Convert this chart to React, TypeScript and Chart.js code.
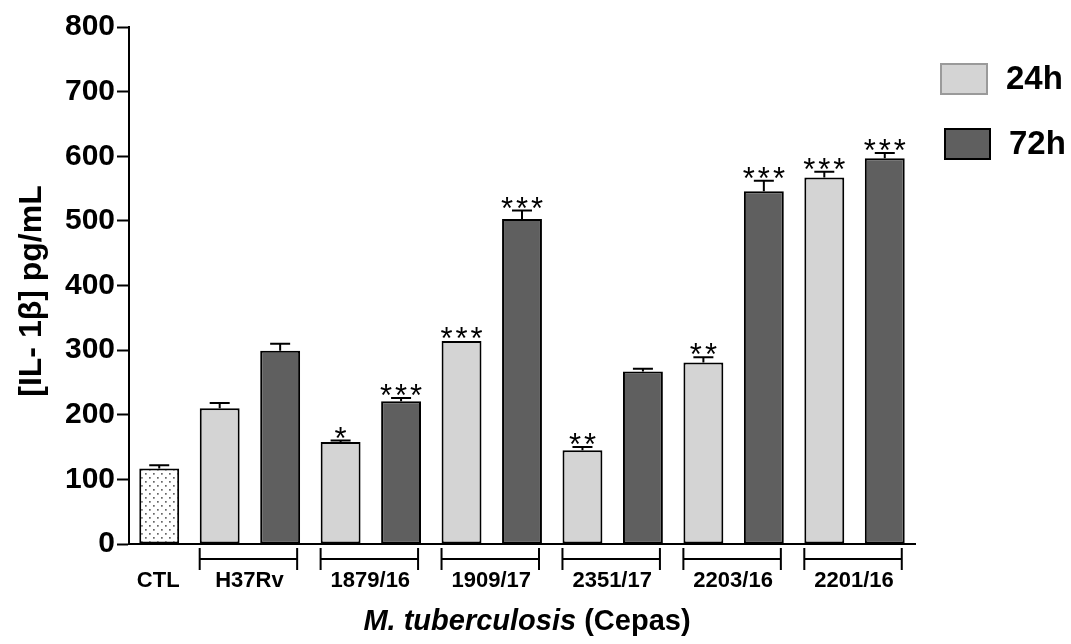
import React, { useEffect, useRef } from "react";
import { Chart, registerables } from "chart.js";

Chart.register(...registerables);

const FONT = '"Liberation Sans", Arial, Helvetica, sans-serif';

// ---- data ----
const controlLabel = "CTL";
const controlValue = 117;
const controlError = 5;
const strainLabels = ["H37Rv", "1879/16", "1909/17", "2351/17", "2203/16", "2201/16"];
const seriesLabels = ["24h", "72h"];
const values24h = [210, 158, 314, 145, 281, 567];
const errors24h = [8, 2, 0, 5, 8, 9];
const stars24h = ["", "*", "***", "**", "**", "***"];
const values72h = [299, 221, 503, 267, 546, 597];
const errors72h = [11, 5, 13, 4, 16, 8];
const stars72h = ["", "***", "***", "", "***", "***"];
const yMin = 0;
const yMax = 800;
const yStep = 100;
const yTitle = "[IL- 1β] pg/mL";
const xTitleItalic = "M. tuberculosis";
const xTitleRest = " (Cepas)";

// slots: CTL, then 24h/72h for each strain
const slotLabels: string[] = [controlLabel];
strainLabels.forEach((s) => {
  slotLabels.push(s + " " + seriesLabels[0]);
  slotLabels.push(s + " " + seriesLabels[1]);
});
const nulls = () => slotLabels.map(() => null as number | null);

function buildSeries(vals: (number | string)[], kind: 0 | 1, empty: any) {
  return slotLabels.map((_, i) => {
    if (i === 0) return empty;
    const g = Math.floor((i - 1) / 2);
    const k = (i - 1) % 2;
    return k === kind ? vals[g] : empty;
  });
}

function makePattern(): CanvasPattern | string {
  const c = document.createElement("canvas");
  c.width = 8;
  c.height = 8;
  const p = c.getContext("2d");
  if (!p) return "#eeeeee";
  p.fillStyle = "#ffffff";
  p.fillRect(0, 0, 8, 8);
  p.fillStyle = "#666666";
  p.fillRect(1, 1, 1.7, 1.7);
  p.fillRect(5, 5, 1.7, 1.7);
  const pat = p.createPattern(c, "repeat");
  return pat || "#eeeeee";
}

const annotationsPlugin = {
  id: "annotations",
  afterDatasetsDraw(chart: any) {
    const ctx: CanvasRenderingContext2D = chart.ctx;
    const xs = chart.scales.x;
    const ys = chart.scales.y;
    ctx.save();
    // error bars and significance stars
    chart.data.datasets.forEach((ds: any, di: number) => {
      const meta = chart.getDatasetMeta(di);
      meta.data.forEach((el: any, i: number) => {
        const v = ds.data[i];
        if (v === null || v === undefined) return;
        const err = ds.errorBars[i] || 0;
        const capY = ys.getPixelForValue(v + err);
        ctx.strokeStyle = "#000";
        ctx.lineWidth = 2;
        if (err > 0) {
          ctx.beginPath();
          ctx.moveTo(el.x, el.y);
          ctx.lineTo(el.x, capY);
          ctx.moveTo(el.x - 10, capY);
          ctx.lineTo(el.x + 10, capY);
          ctx.stroke();
        }
        const st = ds.stars[i];
        if (st) {
          ctx.save();
          ctx.fillStyle = "#000";
          ctx.font = "31px " + FONT;
          (ctx as any).letterSpacing = "3px";
          ctx.textAlign = "center";
          ctx.textBaseline = "alphabetic";
          ctx.fillText(st, el.x + 1.5, capY + 8);
          ctx.restore();
        }
      });
    });

    // x labels and brackets
    ctx.fillStyle = "#000";
    ctx.strokeStyle = "#000";
    ctx.lineWidth = 2;
    ctx.font = "bold 22px " + FONT;
    ctx.textAlign = "center";
    ctx.textBaseline = "middle";
    ctx.fillText(controlLabel, xs.getPixelForValue(0) - 1, 581);
    strainLabels.forEach((s, g) => {
      const x1 = xs.getPixelForValue(1 + 2 * g);
      const x2 = xs.getPixelForValue(2 + 2 * g);
      const l = x1 - 20;
      const r = x2 + 17;
      ctx.beginPath();
      ctx.moveTo(l, 559);
      ctx.lineTo(r, 559);
      ctx.moveTo(l, 548);
      ctx.lineTo(l, 570);
      ctx.moveTo(r, 548);
      ctx.lineTo(r, 570);
      ctx.stroke();
      ctx.fillText(s, (l + r) / 2 + 1, 581);
    });

    // y title
    ctx.save();
    ctx.translate(32, 291);
    ctx.rotate(-Math.PI / 2);
    ctx.font = "bold 32px " + FONT;
    ctx.textAlign = "center";
    ctx.textBaseline = "middle";
    ctx.fillText(yTitle, 0, 0);
    ctx.restore();

    // x title
    ctx.textBaseline = "middle";
    ctx.textAlign = "left";
    const fItal = "italic bold 29px " + FONT;
    const fBold = "bold 29px " + FONT;
    ctx.font = fItal;
    const w1 = ctx.measureText(xTitleItalic).width;
    ctx.font = fBold;
    const w2 = ctx.measureText(xTitleRest).width;
    const cx = (chart.chartArea.left + chart.chartArea.right) / 2 + 5;
    const sx = cx - (w1 + w2) / 2;
    ctx.font = fItal;
    ctx.fillText(xTitleItalic, sx, 622);
    ctx.font = fBold;
    ctx.fillText(xTitleRest, sx + w1, 622);

    // legend
    const d24 = chart.data.datasets[1];
    const d72 = chart.data.datasets[2];
    ctx.fillStyle = d24.backgroundColor;
    ctx.fillRect(941, 64, 46, 30);
    ctx.strokeStyle = "#9a9a9a";
    ctx.lineWidth = 2;
    ctx.strokeRect(941, 64, 46, 30);
    ctx.fillStyle = d72.backgroundColor;
    ctx.fillRect(945, 129, 45, 30);
    ctx.strokeStyle = "#000";
    ctx.strokeRect(945, 129, 45, 30);
    ctx.fillStyle = "#000";
    ctx.font = "bold 33px " + FONT;
    ctx.textAlign = "left";
    ctx.textBaseline = "middle";
    ctx.fillText(d24.label, 1006, 80);
    ctx.fillText(d72.label, 1009, 145);
    ctx.restore();
  },
};

export default function App() {
  const ref = useRef<HTMLCanvasElement | null>(null);
  useEffect(() => {
    if (!ref.current) return;
    const ctlData = nulls();
    ctlData[0] = controlValue;
    const ctlErr = slotLabels.map((_, i) => (i === 0 ? controlError : 0));
    const ctlStars = slotLabels.map(() => "");
    const common = {
      grouped: false,
      barPercentage: 0.66,
      categoryPercentage: 1,
      borderWidth: 2,
      borderColor: "#000",
      borderSkipped: false,
    };
    const chart = new Chart(ref.current, {
      type: "bar",
      data: {
        labels: slotLabels,
        datasets: [
          {
            ...common,
            label: controlLabel,
            data: ctlData,
            backgroundColor: makePattern(),
            errorBars: ctlErr,
            stars: ctlStars,
          } as any,
          {
            ...common,
            label: seriesLabels[0],
            data: buildSeries(values24h, 0, null),
            backgroundColor: "#d4d4d4",
            errorBars: buildSeries(errors24h, 0, 0),
            stars: buildSeries(stars24h, 0, ""),
          } as any,
          {
            ...common,
            label: seriesLabels[1],
            data: buildSeries(values72h, 1, null),
            backgroundColor: "#5f5f5f",
            errorBars: buildSeries(errors72h, 1, 0),
            stars: buildSeries(stars72h, 1, ""),
          } as any,
        ],
      },
      options: {
        responsive: false,
        animation: false,
        devicePixelRatio: 1,
        layout: { padding: { top: 27, right: 156, left: 0, bottom: 0 } },
        plugins: { legend: { display: false }, tooltip: { enabled: false } },
        scales: {
          x: {
            type: "category",
            grid: { display: false },
            border: { display: true, color: "#000", width: 2 },
            ticks: { display: false },
            afterFit: (s: any) => {
              s.height = 100;
              s.paddingLeft = 0;
              s.paddingRight = 0;
            },
          },
          y: {
            min: yMin,
            max: yMax,
            ticks: {
              stepSize: yStep,
              color: "#000",
              padding: 2,
              font: { family: FONT, size: 30, weight: "bold" },
            },
            grid: {
              display: true,
              drawOnChartArea: false,
              drawTicks: true,
              tickLength: 12,
              tickColor: "#000",
              tickWidth: 2,
            },
            border: { display: true, color: "#000", width: 2 },
            afterFit: (s: any) => {
              s.width = 129;
              s.paddingTop = 0;
              s.paddingBottom = 0;
            },
          },
        },
      } as any,
      plugins: [annotationsPlugin],
    });
    return () => chart.destroy();
  }, []);
  return (
    <div style={{ position: "absolute", left: 0, top: 0, width: 1071, height: 644, background: "#fff" }}>
      <canvas ref={ref} width={1071} height={644} />
    </div>
  );
}
